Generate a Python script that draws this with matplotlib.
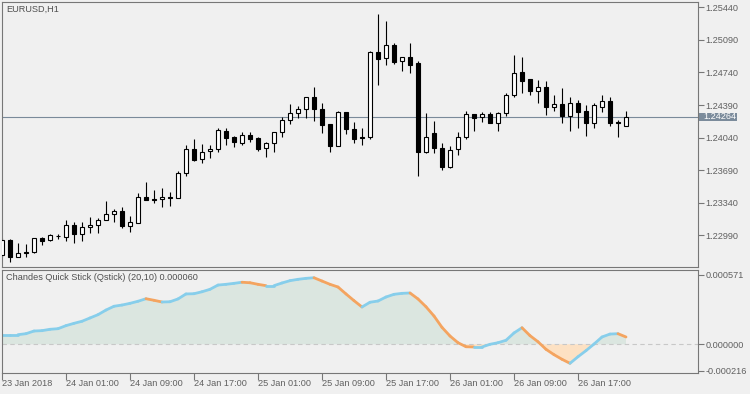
import numpy as np
import matplotlib.pyplot as plt
from matplotlib.collections import LineCollection
from matplotlib.patches import Rectangle
from matplotlib.transforms import blended_transform_factory

plt.rcParams['font.family'] = ['Liberation Sans', 'DejaVu Sans']

# EURUSD H1 bars, 23 Jan 2018 17:00 onwards
opens = [1.22780, 1.22941, 1.22762, 1.22809, 1.22809, 1.22959, 1.22941, 1.22979, 1.22970, 1.23099,
         1.23002, 1.23078, 1.23099, 1.23156, 1.23217, 1.23253, 1.23095, 1.23120, 1.23400, 1.23376,
         1.23378, 1.23400, 1.23389, 1.23657, 1.23915, 1.23811, 1.23897, 1.23915, 1.24115, 1.24047,
         1.23979, 1.24065, 1.24033, 1.23926, 1.23979, 1.24098, 1.24230, 1.24303, 1.24351, 1.24473,
         1.24344, 1.24183, 1.23954, 1.24312, 1.24133, 1.24044, 1.24044, 1.24956, 1.24892, 1.25035,
         1.24860, 1.24909, 1.24845, 1.23890, 1.24087, 1.23926, 1.23728, 1.23915, 1.24050, 1.24291,
         1.24259, 1.24291, 1.24201, 1.24303, 1.24498, 1.24742, 1.24667, 1.24544, 1.24581, 1.24372,
         1.24401, 1.24276, 1.24415, 1.24326, 1.24201, 1.24372, 1.24434, 1.24211, 1.24168]
highs = [1.22963, 1.22952, 1.22906, 1.22895, 1.22963, 1.22977, 1.23002, 1.23006, 1.23156, 1.23134,
         1.23131, 1.23188, 1.23177, 1.23360, 1.23271, 1.23292, 1.23199, 1.23443, 1.23564, 1.23478,
         1.23496, 1.23453, 1.23682, 1.23961, 1.24026, 1.23972, 1.23961, 1.24147, 1.24143, 1.24058,
         1.24101, 1.24101, 1.24047, 1.23996, 1.24104, 1.24265, 1.24401, 1.24380, 1.24473, 1.24581,
         1.24409, 1.24183, 1.24326, 1.24312, 1.24205, 1.24143, 1.24967, 1.25368, 1.25293, 1.25053,
         1.24909, 1.25053, 1.24863, 1.24308, 1.24219, 1.23979, 1.23950, 1.24098, 1.24326, 1.24291,
         1.24319, 1.24319, 1.24319, 1.24523, 1.24928, 1.24903, 1.24667, 1.24659, 1.24648, 1.24498,
         1.24570, 1.24473, 1.24444, 1.24391, 1.24415, 1.24498, 1.24473, 1.24230, 1.24329]
lows = [1.22759, 1.22708, 1.22755, 1.22762, 1.22805, 1.22887, 1.22934, 1.22955, 1.22934, 1.22912,
        1.22934, 1.23020, 1.23013, 1.23156, 1.23138, 1.23067, 1.23030, 1.23120, 1.23367, 1.23342,
        1.23292, 1.23303, 1.23389, 1.23632, 1.23793, 1.23765, 1.23826, 1.23890, 1.23961, 1.23943,
        1.23961, 1.23996, 1.23900, 1.23837, 1.23890, 1.24050, 1.24187, 1.24255, 1.24255, 1.24222,
        1.24087, 1.23890, 1.23954, 1.24076, 1.23979, 1.23961, 1.24022, 1.24605, 1.24820, 1.24828,
        1.24756, 1.24731, 1.23632, 1.23879, 1.23872, 1.23693, 1.23717, 1.23854, 1.24026, 1.24111,
        1.24211, 1.24194, 1.24115, 1.24273, 1.24473, 1.24516, 1.24498, 1.24415, 1.24283, 1.24329,
        1.24201, 1.24115, 1.24143, 1.24058, 1.24143, 1.24319, 1.24165, 1.24050, 1.24168]
closes = [1.22941, 1.22762, 1.22798, 1.22798, 1.22959, 1.22934, 1.22995, 1.22984, 1.23099, 1.23002,
          1.23078, 1.23102, 1.23156, 1.23217, 1.23253, 1.23095, 1.23131, 1.23400, 1.23367, 1.23365,
          1.23400, 1.23389, 1.23657, 1.23915, 1.23803, 1.23890, 1.23915, 1.24122, 1.24040, 1.23990,
          1.24065, 1.24029, 1.23922, 1.23979, 1.24098, 1.24230, 1.24308, 1.24351, 1.24473, 1.24344,
          1.24179, 1.23954, 1.24312, 1.24130, 1.24029, 1.24033, 1.24956, 1.24888, 1.25032, 1.24855,
          1.24909, 1.24823, 1.23890, 1.24050, 1.23926, 1.23728, 1.23908, 1.24050, 1.24291, 1.24255,
          1.24291, 1.24201, 1.24303, 1.24498, 1.24731, 1.24652, 1.24544, 1.24581, 1.24372, 1.24401,
          1.24276, 1.24409, 1.24319, 1.24201, 1.24391, 1.24434, 1.24201, 1.24194, 1.24264]

# Qstick (20,10) values per bar
qstick = [0.000079, 0.000079, 0.000079, 0.000087, 0.000109, 0.000112, 0.000123, 0.000128, 0.000153, 0.000172,
          0.000189, 0.000216, 0.000243, 0.000281, 0.000312, 0.000322, 0.000336, 0.000353, 0.000374, 0.000361,
          0.000347, 0.000349, 0.000372, 0.000413, 0.000415, 0.000431, 0.000451, 0.000486, 0.000492, 0.000500,
          0.000509, 0.000505, 0.000492, 0.000481, 0.000481, 0.000503, 0.000522, 0.000533, 0.000541, 0.000546,
          0.000519, 0.000492, 0.000470, 0.000413, 0.000358, 0.000306, 0.000345, 0.000355, 0.000388, 0.000410,
          0.000418, 0.000421, 0.000372, 0.000308, 0.000232, 0.000139, 0.000068, 0.000013, -0.000020, -0.000022,
          -0.000022, 0.000000, 0.000013, 0.000033, 0.000093, 0.000136, 0.000071, 0.000021, -0.000041, -0.000085,
          -0.000123, -0.000156, -0.000102, -0.000052, 0.000002, 0.000060, 0.000084, 0.000087, 0.000060]

price_ticks = [1.22990, 1.23340, 1.23690, 1.24040, 1.24390, 1.24740, 1.25090, 1.25440]
last_price = 1.24264
time_ticks = [0, 8, 16, 24, 32, 40, 48, 56, 64, 72]
time_labels = ['23 Jan 2018', '24 Jan 01:00', '24 Jan 09:00', '24 Jan 17:00', '25 Jan 01:00',
               '25 Jan 09:00', '25 Jan 17:00', '26 Jan 01:00', '26 Jan 09:00', '26 Jan 17:00']
ind_ticks = [-0.000216, 0.0, 0.000571]

BG = '#f0f0f0'
GRID = '#777777'
TXT = '#606060'
W, H = 750, 394

fig = plt.figure(figsize=(7.5, 3.94), dpi=100, facecolor=BG)


def px_rect(x0, y0, x1, y1):
    return [x0 / W, 1 - y1 / H, (x1 - x0) / W, (y1 - y0) / H]


ax = fig.add_axes(px_rect(2, 2.3, 697.5, 267))
ax2 = fig.add_axes(px_rect(2, 269.5, 697.5, 373))

o = np.array(opens)
h = np.array(highs)
l = np.array(lows)
c = np.array(closes)
x = np.arange(len(o))
up = c >= o

# candles
ax.axhline(last_price, color='#7a8a9a', lw=0.8, zorder=1)
ax.vlines(x, l, h, color='black', lw=0.8, zorder=2)
ax.bar(x, np.abs(c - o), bottom=np.minimum(o, c), width=0.6,
       color=np.where(up, 'white', 'black'), edgecolor='black', linewidth=0.8, zorder=3)

ax.set_xlim(0, (697.5 - 2) / 8)
ax.set_ylim(1.22651, 1.25493)
ax.set_facecolor(BG)
ax.set_xticks([])
ax.yaxis.tick_right()
ax.set_yticks(price_ticks)
ax.set_yticklabels(['%.5f' % p for p in price_ticks])
ax.tick_params(axis='y', direction='out', length=4, width=0.8, color=GRID,
               labelsize=6.6, labelcolor=TXT, pad=1.5)
for s in ax.spines.values():
    s.set_color(GRID)
    s.set_linewidth(0.8)

# last price tag
tr = blended_transform_factory(ax.transAxes, ax.transData)
axw = 695.5
ax.add_patch(Rectangle((1 + 1.5 / axw, last_price - 0.00045), 38 / axw, 0.0009,
                       transform=tr, clip_on=False, facecolor='#7b8b9b', edgecolor='none', zorder=5))
ax.text(1 + 5.5 / axw, last_price, '%.5f' % last_price, transform=tr, fontsize=6.6,
        color='white', va='center', ha='left', zorder=6, clip_on=False)

fig.text(6.5 / W, 1 - 9.7 / H, 'EURUSD,H1', fontsize=6.6, color='#505050', va='center')

# indicator pane
q = np.array(qstick)
ax2.set_facecolor(BG)
ax2.fill_between(x, q, 0, where=q >= 0, interpolate=True, color='#dbe6e0', lw=0)
ax2.fill_between(x, q, 0, where=q <= 0, interpolate=True, color='#fde1c3', lw=0)
ax2.axhline(0, color='#c8c8c8', lw=0.8, ls=(0, (4, 3)))
pts = np.column_stack([x, q])
segs = [pts[i - 1:i + 1] for i in range(1, len(q))]
cols = ['#87ceeb' if q[i] >= q[i - 1] else '#f4a460' for i in range(1, len(q))]
ax2.add_collection(LineCollection(segs, colors=cols, linewidths=2.0, capstyle='round'))

ax2.set_xlim(0, (697.5 - 2) / 8)
ax2.set_ylim(-0.0002354, 0.0006136)
ax2.yaxis.tick_right()
ax2.set_yticks(ind_ticks)
ax2.set_yticklabels(['%.6f' % v for v in ind_ticks])
ax2.tick_params(axis='y', direction='out', length=4, width=0.8, color=GRID,
                labelsize=6.6, labelcolor=TXT, pad=1.5)
ax2.set_xticks(time_ticks)
ax2.set_xticklabels(time_labels, ha='left')
ax2.tick_params(axis='x', direction='out', length=5, width=0.8, color=GRID,
                labelsize=6.6, labelcolor=TXT, pad=-0.5)
for s in ax2.spines.values():
    s.set_color(GRID)
    s.set_linewidth(0.8)

fig.text(6 / W, 1 - 278 / H, 'Chandes Quick Stick (Qstick) (20,10) 0.000060',
         fontsize=6.6, color='#505050', va='center')

fig.savefig('out.png', dpi=100, facecolor=BG)
